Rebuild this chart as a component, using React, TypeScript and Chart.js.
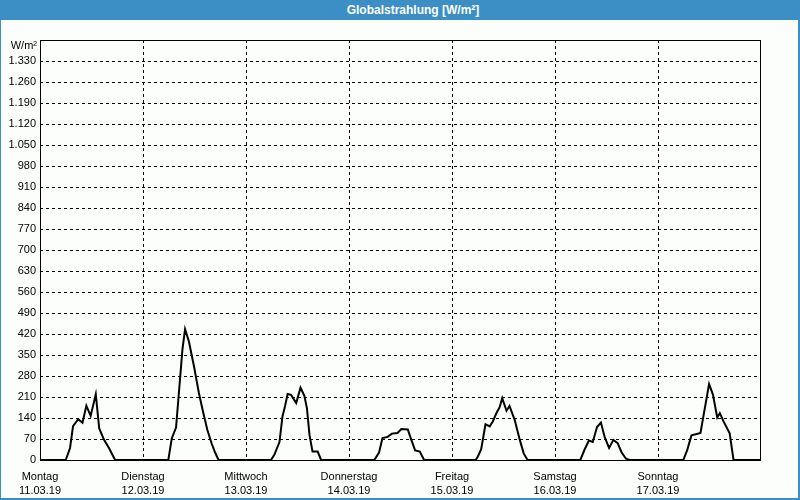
import React, { useEffect, useRef } from 'react';
import { Chart, registerables } from 'chart.js';

Chart.register(...registerables);

// ---- data ----
const dayNames = ['Montag', 'Dienstag', 'Mittwoch', 'Donnerstag', 'Freitag', 'Samstag', 'Sonntag'];
const dates = ['11.03.19', '12.03.19', '13.03.19', '14.03.19', '15.03.19', '16.03.19', '17.03.19'];
const yStep = 70;
const yMax = 1400;
const unitLabel = 'W/m²';
const titleText = 'Globalstrahlung [W/m²]';

// [hour of day, W/m²]
const montag = [[6.0, 0], [7.0, 40], [7.7, 113], [8.9, 136], [9.9, 124], [10.8, 181], [11.8, 147], [13.0, 219], [13.8, 105], [14.9, 68], [16.1, 39], [17.5, 0]];
const dienstag = [[5.9, 0], [6.7, 72], [7.7, 108], [9.2, 370], [9.8, 436], [10.7, 395], [11.9, 311], [13.0, 225], [14.0, 160], [15.0, 100], [16.0, 55], [16.8, 25], [17.6, 0]];
const mittwoch = [[5.8, 0], [6.6, 17], [7.8, 60], [8.5, 145], [9.1, 180], [9.7, 220], [10.5, 217], [11.7, 190], [12.7, 241], [13.6, 214], [14.2, 172], [14.8, 83], [15.5, 28], [16.7, 28], [17.5, 0]];
const donnerstag = [[5.9, 0], [7.0, 25], [7.8, 73], [9.0, 77], [10.0, 88], [11.3, 90], [12.2, 103], [13.7, 102], [14.4, 72], [15.4, 32], [16.5, 28], [17.5, 0]];
const freitag = [[5.5, 0], [6.0, 11], [6.8, 36], [7.8, 119], [8.8, 112], [9.5, 128], [10.3, 155], [11.1, 176], [11.7, 206], [12.7, 164], [13.4, 180], [14.6, 134], [15.8, 67], [16.7, 22], [17.6, 0]];
const samstag = [[5.9, 0], [6.9, 35], [7.9, 65], [8.8, 60], [9.8, 110], [10.7, 125], [11.6, 75], [12.6, 40], [13.6, 67], [14.6, 56], [15.5, 26], [16.5, 5], [17.3, 0]];
const sonntag = [[5.9, 0], [6.8, 33], [7.8, 82], [8.8, 86], [9.9, 90], [11.9, 253], [12.8, 218], [13.8, 142], [14.4, 156], [15.3, 128], [16.7, 89], [17.6, 0]];

const week = [montag, dienstag, mittwoch, donnerstag, freitag, samstag, sonntag];

function buildPoints() {
  const pts: { x: number; y: number }[] = [{ x: 0, y: 0 }];
  week.forEach((day, d) => {
    day.forEach(([h, v]) => pts.push({ x: d * 24 + h, y: v }));
  });
  pts.push({ x: week.length * 24, y: 0 });
  return pts;
}

function fmt(v: number) {
  if (v >= 1000) return `${Math.floor(v / 1000)}.${String(v % 1000).padStart(3, '0')}`;
  return String(v);
}

const FONT = '"Liberation Sans", Arial, sans-serif';

const framePlugin = {
  id: 'framePlugin',
  beforeDatasetsDraw(chart: any) {
    const { ctx, chartArea: a, scales } = chart;
    const x = scales.x;
    const y = scales.y;
    ctx.save();
    ctx.strokeStyle = '#000';
    ctx.lineWidth = 1;
    ctx.setLineDash([3, 3]);
    for (let v = yStep; v < yMax; v += yStep) {
      const py = Math.round(y.getPixelForValue(v)) + 0.5;
      ctx.beginPath();
      ctx.moveTo(a.left, py);
      ctx.lineTo(a.right, py);
      ctx.stroke();
    }
    for (let d = 1; d < week.length; d++) {
      const px = Math.round(x.getPixelForValue(d * 24)) + 0.5;
      ctx.beginPath();
      ctx.moveTo(px, a.top);
      ctx.lineTo(px, a.bottom);
      ctx.stroke();
    }
    ctx.setLineDash([]);
    const l = Math.round(a.left) + 0.5;
    const t = Math.round(a.top) + 0.5;
    const r = Math.round(a.right) - 0.5;
    const b = Math.round(a.bottom) + 0.5;
    ctx.strokeRect(l, t, r - l, b - t);
    ctx.fillStyle = '#000';
    ctx.font = `11px ${FONT}`;
    ctx.textAlign = 'right';
    ctx.textBaseline = 'middle';
    ctx.fillText(unitLabel, a.left - 3, a.top + 6);
    ctx.restore();
  },
};

export default function App() {
  const ref = useRef<HTMLCanvasElement | null>(null);

  useEffect(() => {
    if (!ref.current) return;
    const chart = new Chart(ref.current, {
      type: 'line',
      data: {
        datasets: [
          {
            data: buildPoints(),
            borderColor: '#000',
            borderWidth: 2,
            pointRadius: 0,
            tension: 0,
            fill: false,
          },
        ],
      },
      options: {
        animation: false,
        responsive: false,
        devicePixelRatio: 1,
        layout: { padding: { top: 20, right: 39, left: 0, bottom: 0 } },
        plugins: { legend: { display: false }, tooltip: { enabled: false }, title: { display: false } },
        scales: {
          x: {
            type: 'linear',
            min: 0,
            max: week.length * 24,
            grid: { display: false, drawTicks: false },
            border: { display: false },
            afterFit: (s: any) => {
              s.height = 40;
            },
            afterBuildTicks: (s: any) => {
              s.ticks = dayNames.map((_, i) => ({ value: i * 24 }));
            },
            ticks: {
              autoSkip: false,
              maxRotation: 0,
              minRotation: 0,
              padding: 10,
              color: '#000',
              font: { family: FONT, size: 11, lineHeight: 1.3 },
              callback: (v: any) => {
                const i = Math.round(Number(v) / 24);
                return i < dayNames.length ? [dayNames[i], dates[i]] : '';
              },
            },
          },
          y: {
            type: 'linear',
            min: 0,
            max: yMax,
            grid: { display: false, drawTicks: false },
            border: { display: false },
            afterFit: (s: any) => {
              s.width = 40;
            },
            ticks: {
              stepSize: yStep,
              padding: 4,
              color: '#000',
              font: { family: FONT, size: 11 },
              callback: (v: any) => (Number(v) >= yMax ? '' : fmt(Number(v))),
            },
          },
        },
      },
      plugins: [framePlugin],
    });
    return () => chart.destroy();
  }, []);

  const blue = '#3b8fc4';
  return (
    <div style={{ position: 'fixed', left: 0, top: 0, width: 800, height: 500, background: '#fcfefc', overflow: 'hidden' }}>
      <div style={{ position: 'absolute', left: 0, top: 0, width: 800, height: 20, background: blue }}>
        <div
          style={{
            position: 'absolute',
            left: 413,
            top: 0,
            transform: 'translateX(-50%)',
            whiteSpace: 'nowrap',
            color: '#fff',
            fontFamily: FONT,
            fontWeight: 'bold',
            fontSize: 12,
            lineHeight: '20px',
          }}
        >
          {titleText}
        </div>
      </div>
      <canvas ref={ref} width={800} height={480} style={{ position: 'absolute', left: 0, top: 20, width: 800, height: 480 }} />
      <div style={{ position: 'absolute', left: 0, top: 20, width: 1, height: 480, background: blue }} />
      <div style={{ position: 'absolute', left: 798, top: 20, width: 2, height: 480, background: blue }} />
      <div style={{ position: 'absolute', left: 0, top: 498, width: 800, height: 2, background: blue }} />
    </div>
  );
}
